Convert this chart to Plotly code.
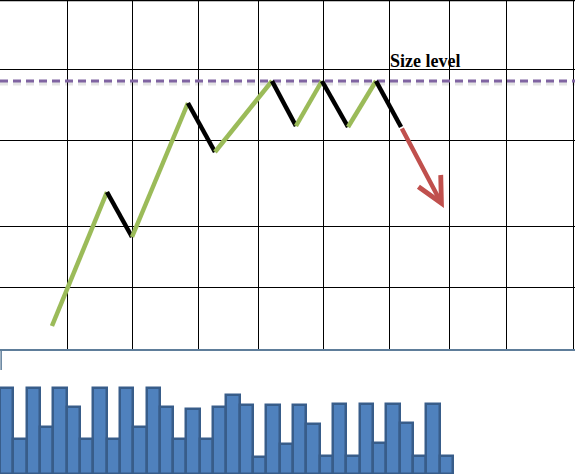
import plotly.graph_objects as go

# price swings (x in bar index units, y in price units)
swing_x = [3.9, 8.03, 9.91, 14.11, 16.14, 20.42, 22.22, 24.17, 26.13, 28.23, 30.11]
swing_y = [23, 157, 112, 246, 197, 268, 223, 268, 222, 268, 222]
breakdown_x = 33.33
breakdown_y = 141
size_level = 268

# volume bars
volume = [86, 35, 86, 47, 86, 67, 35, 86, 35, 86, 47, 86, 67, 35, 65, 35, 67,
          79, 69, 17, 69, 30, 69, 50, 18, 70, 18, 70, 31, 70, 51, 18, 70, 18]

# grid positions
grid_x = [5.03, 9.98, 14.94, 19.44, 24.25, 29.28, 33.78, 37.99, 43.09]
grid_y = [62, 123, 209, 280]

GREEN = "#9BBB59"
RED = "#C0504D"
AXIS = "#5E7D9A"

fig = go.Figure()

# size level with soft shadow
x_full = [0, 43.2]
fig.add_trace(go.Scatter(x=x_full, y=[size_level - 2.5] * 2, mode="lines",
                         line=dict(color="rgba(0,0,0,0.10)", width=4, dash="8px,5px"),
                         hoverinfo="skip"))
fig.add_trace(go.Scatter(x=x_full, y=[size_level] * 2, mode="lines",
                         line=dict(color="#8064A2", width=3, dash="8px,5px"),
                         hoverinfo="skip"))

# up legs green, down legs black
for i in range(len(swing_x) - 1):
    up = swing_y[i + 1] > swing_y[i]
    fig.add_trace(go.Scatter(
        x=swing_x[i:i + 2], y=swing_y[i:i + 2], mode="lines",
        line=dict(color=GREEN if up else "black", width=4.5),
        hoverinfo="skip"))

# breakdown arrow
fig.add_annotation(x=breakdown_x, y=breakdown_y, ax=swing_x[-1], ay=swing_y[-1],
                   xref="x", yref="y", axref="x", ayref="y", text="",
                   showarrow=True, arrowhead=5, arrowsize=1.1, arrowwidth=4.5,
                   arrowcolor=RED, standoff=0, startstandoff=0)

fig.add_annotation(x=swing_x[-1] - 0.95, y=size_level + 20, xref="x", yref="y",
                   text="<b>Size level</b>", showarrow=False,
                   xanchor="left", yanchor="middle",
                   font=dict(family="Liberation Serif", size=18, color="black"))

fig.add_trace(go.Bar(x=[i + 0.5 for i in range(len(volume))], y=volume,
                     width=1, xaxis="x2", yaxis="y2",
                     marker=dict(color="#4F81BD", line=dict(color="#385D8A", width=2.5)),
                     hoverinfo="skip"))

fig.update_layout(
    width=575, height=474,
    margin=dict(l=0, r=0, t=0, b=0),
    paper_bgcolor="white", plot_bgcolor="white",
    showlegend=False,
    xaxis=dict(range=[0, 43.17], tickvals=grid_x, showticklabels=False,
               showgrid=True, gridcolor="black", gridwidth=1.2, zeroline=False,
               showline=True, linecolor=AXIS, linewidth=1.5, ticks=""),
    yaxis=dict(domain=[1 - 349 / 474, 1], range=[0, 349], tickvals=grid_y,
               showticklabels=False, showgrid=True, gridcolor="black", gridwidth=1.2,
               zeroline=False, showline=True, linecolor=AXIS, linewidth=1.5, ticks=""),
    xaxis2=dict(anchor="y2", matches="x", visible=False),
    yaxis2=dict(domain=[0, 104 / 474], range=[0, 104], visible=False),
    bargap=0,
)

# top border of the grid and the axis stub below it
fig.add_shape(type="line", xref="paper", yref="paper", x0=0, x1=1, y0=0.999, y1=0.999,
              line=dict(color="black", width=1.5), layer="below")
fig.add_shape(type="line", xref="paper", yref="paper", x0=0.002, x1=0.002,
              y0=1 - 370 / 474, y1=1 - 349 / 474, line=dict(color=AXIS, width=1.5))

fig.write_html("out.html", config={"displayModeBar": False},
               post_script="document.body.style.margin='0';document.body.style.overflow='hidden';")
